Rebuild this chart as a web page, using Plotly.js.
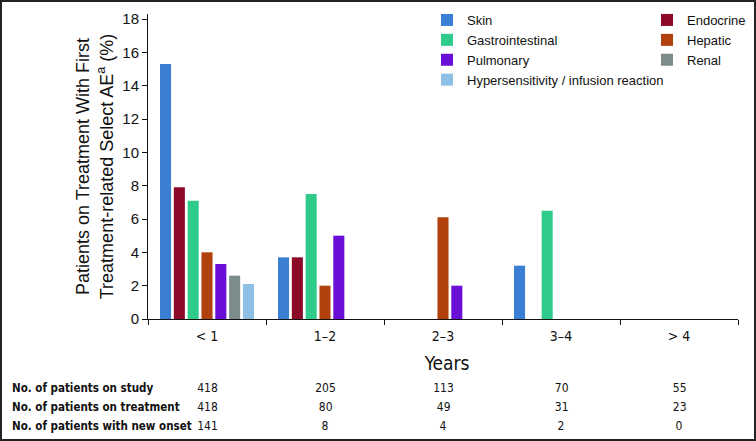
<!DOCTYPE html>
<html>
<head>
<meta charset="utf-8">
<script src="https://cdn.plot.ly/plotly-3.0.1.min.js"></script>
<style>
  body { margin: 0; background: #ffffff; }
  #wrap { position: relative; width: 756px; height: 441px; }
  #frame {
    position: absolute; left: 0; top: 0; width: 756px; height: 441px;
    box-sizing: border-box; border: 2px solid #222; pointer-events: none;
  }
  /* condensed face for the axis categories, "Years" and the table */
  #chart .xtick text, #chart .annotation-text { font-stretch: condensed; }
</style>
</head>
<body>
<div id="wrap">
  <div id="chart"></div>
  <div id="frame"></div>
</div>
<script>
  // Years since start of treatment
  const categories = ['< 1', '1–2', '2–3', '3–4', '> 4']

  // % of patients on treatment with first treatment-related select AE
  const skin = [15.3, 3.7, null, 3.2, null]
  const endocrine = [7.9, 3.7, null, null, null]
  const gastro = [7.1, 7.5, null, 6.5, null]
  const hepatic = [4.0, 2.0, 6.1, null, null]
  const pulmonary = [3.3, 5.0, 2.0, null, null]
  const renal = [2.6, null, null, null, null]
  const hypersens = [2.1, null, null, null, null]

  // Table under the axis
  const rowLabels = ['No. of patients on study', 'No. of patients on treatment', 'No. of patients with new onset']
  const onStudy = [418, 205, 113, 70, 55]
  const onTreatment = [418, 80, 49, 31, 23]
  const newOnset = [141, 8, 4, 2, 0]

  const series = [
    { name: 'Skin', y: skin, color: '#3a7fd4', legend: 'legend' },
    { name: 'Endocrine', y: endocrine, color: '#8c0a28', legend: 'legend2' },
    { name: 'Gastrointestinal', y: gastro, color: '#2ecb8a', legend: 'legend' },
    { name: 'Hepatic', y: hepatic, color: '#b0400c', legend: 'legend2' },
    { name: 'Pulmonary', y: pulmonary, color: '#6a0fd6', legend: 'legend' },
    { name: 'Renal', y: renal, color: '#7b8c8a', legend: 'legend2' },
    { name: 'Hypersensitivity / infusion reaction', y: hypersens, color: '#8ec0e6', legend: 'legend' }
  ]

  const traces = series.map(s => ({
    type: 'bar',
    name: s.name,
    x: categories,
    y: s.y,
    legend: s.legend,
    marker: { color: s.color, line: { width: 0 } }
  }))

  // plot area in pixels: x 148..738, y 14..319
  const plotTop = 14
  const plotBottom = 319
  const plotH = plotBottom - plotTop
  const plotL = 148
  const plotW = 590
  const py = px => (plotBottom - px) / plotH
  const pxX = px => (px - plotL) / plotW

  const sans = '"Liberation Sans", Arial, sans-serif'
  const narrow = '"Liberation Sans Narrow", "DejaVu Sans", sans-serif'

  const annotations = [{
    text: 'Years',
    xref: 'paper', yref: 'paper',
    x: pxX(446), y: py(363),
    xanchor: 'center', yanchor: 'middle',
    showarrow: false,
    font: { family: narrow, size: 19, color: '#111' }
  }]

  const rows = [onStudy, onTreatment, newOnset]
  const rowY = [388, 407, 426]
  rows.forEach((vals, r) => {
    annotations.push({
      text: '<b>' + rowLabels[r] + '</b>',
      xref: 'paper', yref: 'paper',
      x: pxX(10), y: py(rowY[r]),
      xanchor: 'left', yanchor: 'middle',
      align: 'left',
      showarrow: false,
      font: { family: narrow, size: 11.5, color: '#111' }
    })
    vals.forEach((v, i) => {
      annotations.push({
        text: String(v),
        xref: 'x', yref: 'paper',
        x: categories[i], y: py(rowY[r]),
        xanchor: 'center', yanchor: 'middle',
        showarrow: false,
        font: { family: narrow, size: 12, color: '#111' }
      })
    })
  })

  const legendBase = {
    orientation: 'v',
    xanchor: 'left',
    yanchor: 'top',
    y: py(5),
    bgcolor: 'rgba(0,0,0,0)',
    borderwidth: 0,
    itemwidth: 30,
    font: { family: sans, size: 13, color: '#111' }
  }

  const layout = {
    width: 756,
    height: 441,
    margin: { l: plotL, r: 756 - plotL - plotW, t: plotTop, b: 441 - plotBottom, autoexpand: false },
    paper_bgcolor: '#ffffff',
    plot_bgcolor: '#ffffff',
    barmode: 'group',
    bargap: 0.18,
    bargroupgap: 0.2,
    font: { family: sans, color: '#111' },
    showlegend: true,
    legend: Object.assign({}, legendBase, { x: pxX(427) }),
    legend2: Object.assign({}, legendBase, { x: pxX(647) }),
    xaxis: {
      type: 'category',
      showline: true,
      linecolor: '#111',
      linewidth: 1,
      ticks: 'outside',
      tickson: 'boundaries',
      ticklen: 5,
      tickcolor: '#111',
      ticklabelstandoff: 4,
      showgrid: false,
      zeroline: false,
      tickfont: { family: narrow, size: 14, color: '#111' },
      fixedrange: true
    },
    yaxis: {
      range: [0, 18.3],
      tickvals: [0, 2, 4, 6, 8, 10, 12, 14, 16, 18],
      showline: true,
      linecolor: '#111',
      linewidth: 1,
      ticks: 'outside',
      ticklen: 5,
      tickcolor: '#111',
      showgrid: false,
      zeroline: false,
      tickfont: { family: sans, size: 15, color: '#111' },
      title: {
        text: 'Patients on Treatment With First<br>Treatment-related Select AE<sup>a</sup> (%)',
        font: { family: sans, size: 18, color: '#111' },
        standoff: 4
      },
      automargin: false
    },
    annotations: annotations
  }

  Plotly.newPlot('chart', traces, layout, { displayModeBar: false, staticPlot: true })
</script>
</body>
</html>
